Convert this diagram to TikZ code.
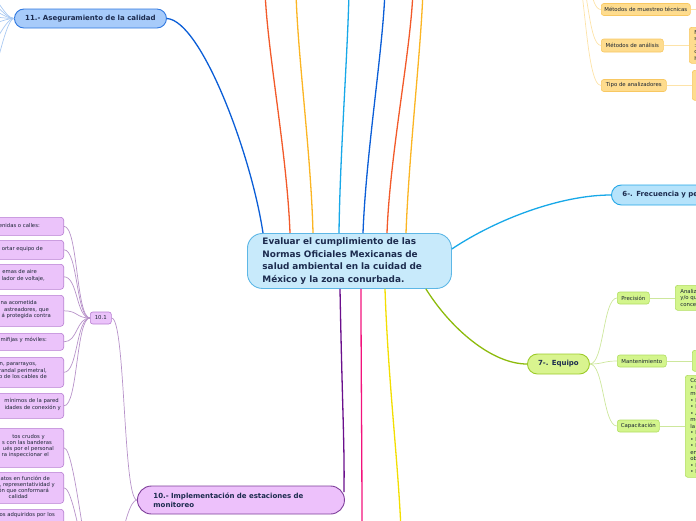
\documentclass[tikz,border=0pt]{standalone}
\usepackage{fontspec}
\setmainfont{DejaVu Sans}
\usetikzlibrary{calc}
\definecolor{ctrFill}{HTML}{C8EAFB}
\definecolor{ctrDraw}{HTML}{5DB7E6}
\definecolor{ctrText}{HTML}{1C2B4E}
\definecolor{bFill}{HTML}{A7CBFA}
\definecolor{bDraw}{HTML}{2F78E0}
\definecolor{bLine}{HTML}{0B5ED7}
\definecolor{bThin}{HTML}{A9C9F2}
\definecolor{pFill}{HTML}{EDC1FB}
\definecolor{pDraw}{HTML}{7E3F9A}
\definecolor{pLine}{HTML}{6A0F8C}
\definecolor{pBoxFill}{HTML}{EBC3FA}
\definecolor{pBoxDraw}{HTML}{B77ED2}
\definecolor{pThin}{HTML}{B792C9}
\definecolor{oFill}{HTML}{FEDC8E}
\definecolor{oDraw}{HTML}{F8C862}
\definecolor{oThin}{HTML}{FDE3A8}
\definecolor{sFill}{HTML}{B6E3FB}
\definecolor{sDraw}{HTML}{23A7E7}
\definecolor{sLine}{HTML}{17A8E8}
\definecolor{gFill}{HTML}{D9F48F}
\definecolor{gDraw}{HTML}{9CCB2A}
\definecolor{gLine}{HTML}{8DBB0C}
\definecolor{gBoxFill}{HTML}{D3F58C}
\definecolor{gBoxDraw}{HTML}{B1DE62}
\definecolor{gThin}{HTML}{CDE79C}
\definecolor{rLine}{HTML}{F25A2A}
\definecolor{yLine}{HTML}{FBB523}
\definecolor{pkLine}{HTML}{F2127C}
\definecolor{ybLine}{HTML}{F3DE00}
\definecolor{txt}{HTML}{1A2433}
\begin{document}
\begin{tikzpicture}[x=1pt,y=-1pt,
  topic/.style={line width=0.9pt, text=ctrText, font=\fontsize{7}{8.5}\selectfont\bfseries, inner sep=0pt},
  small/.style={font=\fontsize{5.4}{6.5}\selectfont, text=txt, inner sep=0pt, rounded corners=2.5pt, line width=0.6pt, minimum height=12},
  obox/.style={small, draw=oDraw, fill=oFill},
  gbox/.style={small, draw=gBoxDraw, fill=gBoxFill},
  pbox/.style={draw=pBoxDraw, fill=pBoxFill, line width=0.6pt, rounded corners=3pt, inner sep=0pt, minimum width=90, anchor=north east},
  ptxt/.style={font=\fontsize{5.3}{6}\selectfont, text=txt, inner sep=0pt, anchor=mid east},
  branch/.style={line width=1.3pt},
  thin/.style={line width=0.7pt}]
\useasboundingbox (0,0) rectangle (696,520);
\clip (0,0) rectangle (696,520);

% ---------- central node ----------
\node[draw=ctrDraw, fill=ctrFill, line width=0.9pt, rounded corners=15pt, anchor=north west,
      minimum width=204, minimum height=55, inner xsep=15pt, inner ysep=0pt,
      text width=174, align=left, text=ctrText,
      font=\fontsize{8.9}{12.7}\selectfont\bfseries] (c) at (247,233)
  {Evaluar el cumplimiento de las\\Normas Oficiales Mexicanas de\\salud ambiental en la cuidad de\\México y la zona conurbada.};

% ---------- main topics ----------
\node[topic, draw=bDraw, fill=bFill, rounded corners=9.5pt, minimum width=152, minimum height=19, anchor=west] (n11) at (14,18.5) {11.- Aseguramiento de la calidad};
\node[topic, draw=pDraw, fill=pFill, rounded corners=14pt, minimum height=28, anchor=west, inner xsep=16pt, text width=175, align=left] (n10) at (137,500) {10.- Implementación de estaciones de\\monitoreo};
\node[topic, draw=gDraw, fill=gFill, rounded corners=10pt, minimum width=62, minimum height=20, anchor=west] (n7) at (527,364) {7-. Equipo};
\node[topic, draw=sDraw, fill=sFill, rounded corners=10pt, minimum height=20, anchor=west, inner xsep=11pt, text width=160, align=left] (n6) at (611,195) {6-. Frecuencia y pe};

% ---------- branch lines from centre ----------
\coordinate (t1) at (265,-10); \coordinate (t2) at (296,-10); \coordinate (t3) at (349,-10);
\coordinate (t4) at (385,-10); \coordinate (t5) at (413,-10); \coordinate (t6) at (423,-10);
\coordinate (b1) at (362,530); \coordinate (b2) at (401,530);
\draw[branch, rLine] ($(c.north west)+(43,0)$) .. controls +(-3,-80) and +(2,60) .. (t1);
\draw[branch, yLine] ($(c.north west)+(66,0)$) .. controls +(-2,-80) and +(1,60) .. (t2);
\draw[branch, sLine] ($(c.north west)+(92,0)$) .. controls +(1,-80) and +(-1,60) .. (t3);
\draw[branch, bLine] ($(c.north west)+(116,0)$) .. controls +(3,-80) and +(-2,60) .. (t4);
\draw[branch, rLine] ($(c.north west)+(140,0)$) .. controls +(3,-80) and +(-2,60) .. (t5);
\draw[branch, yLine] ($(c.north west)+(159,0)$) .. controls +(3,-80) and +(-2,60) .. (t6);
\draw[branch, bLine] (n11.east) .. controls +(34,2) and +(-12,-80) .. ($(c.north west)+(16,0)$);
\draw[branch, sLine] ($(c.east)+(0,-12)$) .. controls +(45,-30) and +(-50,0) .. (n6.west);
\draw[branch, gLine] ($(c.south east)+(-26,0)$) .. controls +(25,40) and +(-35,0) .. (n7.west);
\draw[branch, pLine] ($(c.south west)+(93,0)$) .. controls +(2,110) and +(1,-40) .. ($(n10.east)+(-1,-8)$);
\draw[branch, pkLine] ($(c.south west)+(114,0)$) .. controls +(0,80) and +(0,-80) .. (b1);
\draw[branch, ybLine] ($(c.south west)+(138,0)$) .. controls +(3,90) and +(-3,-70) .. (b2);

% ---------- 11 sub lines ----------
\foreach \yy in {-14,-4,6,16,26,55,100}{
  \draw[thin, bThin] (n11.west) .. controls +(-10,0) and +(10,0) .. (-18,\yy);
}

% ---------- 5 (orange) children ----------
\coordinate (op) at (574,-35);
\node[obox, minimum width=89, anchor=west] (o1) at (601,9.5) {Métodos de muestreo técnicas};
\node[obox, minimum width=62, minimum height=13, anchor=west] (o2) at (601,45.5) {Métodos de análisis};
\node[obox, minimum width=65, anchor=west] (o3) at (601,85.5) {Tipo de analizadores};
\draw[thin, oThin] (op) .. controls +(18,0) and +(-12,0) .. (o1.west);
\draw[thin, oThin] (op) .. controls +(14,0) and +(-14,0) .. (o2.west);
\draw[thin, oThin] (op) .. controls +(11,0) and +(-16,0) .. (o3.west);
\coordinate (o1r) at (705,9.5);
\draw[thin, oThin] (o1.east) -- (o1r);
\node[obox, anchor=north west, minimum width=70, minimum height=36, inner xsep=3pt, text width=60, align=left] (o2c) at (689,27) {M\\s\\:\\c\\H};
\node[obox, anchor=north west, minimum width=70, minimum height=30] (o3c) at (692,70) {};
\draw[thin, oThin] (o2.east) -- (o2c.west |- o2.east);
\draw[thin, oThin] (o3.east) -- (o3c.west |- o3.east);

% ---------- 7 children ----------
\node[gbox, minimum width=32, anchor=west] (g1) at (617,298) {Precisión};
\node[gbox, minimum width=49, anchor=west] (g2) at (617,361) {Mantenimiento};
\node[gbox, minimum width=42, anchor=west] (g3) at (617,426) {Capacitación};
\foreach \g in {g1,g2,g3}{
  \draw[thin, gThin] (n7.east) .. controls +(14,0) and +(-14,0) .. (\g.west);
}
\node[gbox, anchor=north west, minimum width=80, minimum height=25, inner xsep=4pt, text width=70, align=left] (g1c) at (675,285) {Analiz\\y/o qu\\concen};
\node[gbox, anchor=north west, minimum width=70, minimum height=21] (g2c) at (692,350) {};
\node[gbox, anchor=north west, minimum width=80, minimum height=102, inner xsep=5pt, text width=70, align=left] (g3c) at (685,375) {Co\\• I\\me\\• I\\• N\\• A\\me\\la\\• N\\• N\\• N\\en\\ob\\• N\\• N};
\draw[thin, gThin] (g1.east) -- (g1c.west |- g1.east);
\draw[thin, gThin] (g2.east) -- (g2c.west |- g2.east);
\draw[thin, gThin] (g3.east) -- (g3c.west |- g3.east);

% ---------- 10 children ----------
\node[small, draw=pBoxDraw, fill=pBoxFill, minimum width=21, anchor=west] (n101) at (90,318) {10.1};
\coordinate (n102) at (100,600);
\draw[thin, pThin] (n101.east) .. controls +(14,0) and +(-14,0) .. (n10.west);
\draw[thin, pThin] (n10.west) .. controls +(-14,0) and +(14,0) .. (n102);

\node[pbox, minimum height=18] (l1) at (64,217) {};
\node[pbox, minimum height=19] (l2) at (64,240) {};
\node[pbox, minimum height=25] (l3) at (64,264) {};
\node[pbox, minimum height=31] (l4) at (64,295) {};
\node[pbox, minimum height=17] (l5) at (64,333) {};
\node[pbox, minimum height=30] (l6) at (64,357) {};
\node[pbox, minimum height=25] (l7) at (64,393) {};
\node[pbox, minimum height=39] (l8) at (64,428) {};
\node[pbox, minimum height=31] (l9) at (64,472) {};
\node[pbox, minimum height=25] (l10) at (64,509) {};
\foreach \l in {l1,l2,l3,l4,l5,l6,l7}{
  \draw[thin, pThin] (\l.east) .. controls +(14,0) and +(-14,0) .. (n101.west);
}
\foreach \l in {l8,l9,l10}{
  \draw[thin, pThin] (\l.east) .. controls +(12,0) and +(-12,0) .. (n102);
}
\node[ptxt] at (40,224.5) {enidas o calles:};
\node[ptxt] at (43,247.5) {ortar equipo de};
\node[ptxt] at (37,271) {emas de aire};
\node[ptxt] at (45,277.5) {lador de voltaje,};
\node[ptxt] at (37,302) {na acometida};
\node[ptxt] at (49,308.5) {astreadores, que};
\node[ptxt] at (51,315) {á protegida contra};
\node[ptxt] at (47,339) {mifijas y móviles:};
\node[ptxt] at (37,363) {n, pararrayos,};
\node[ptxt] at (47,369.5) {randal perimetral,};
\node[ptxt] at (47,376) {o de los cables de};
\node[ptxt] at (59,400) {mínimos de la pared};
\node[ptxt] at (61,406.5) {idades de conexión y};
\node[ptxt] at (45,436) {tos crudos y};
\node[ptxt] at (52,442) {s con las banderas};
\node[ptxt] at (54,448) {ués por el personal};
\node[ptxt] at (49,454) {ra inspeccionar el};
\node[ptxt] at (50,477.5) {datos en función de};
\node[ptxt] at (55,483.5) {o, representatividad y};
\node[ptxt] at (49,489.5) {ión que conformará};
\node[ptxt] at (28,496) {calidad};
\node[ptxt] at (55,514) {os adquiridos por los};
\end{tikzpicture}
\end{document}
